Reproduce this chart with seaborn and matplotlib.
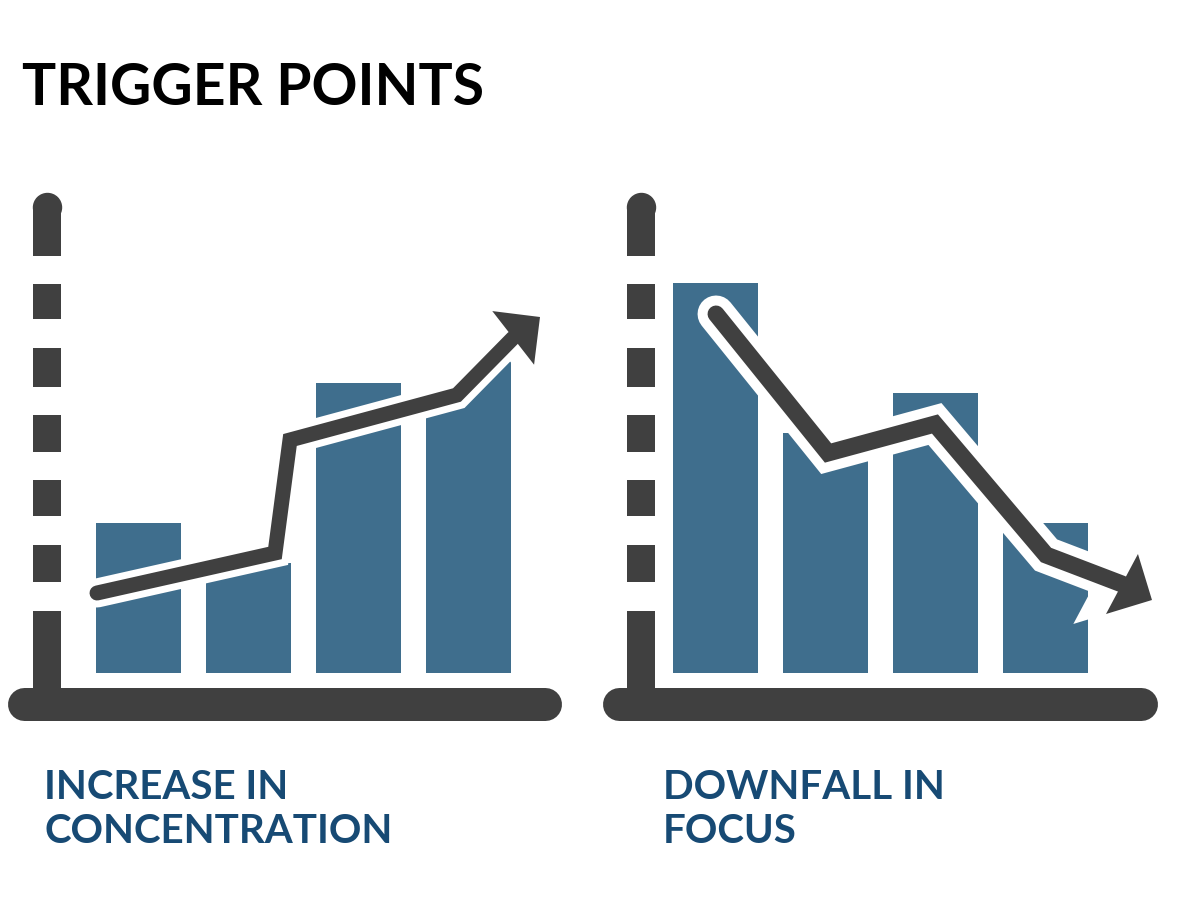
import matplotlib
matplotlib.use("Agg")
import matplotlib.pyplot as plt
from matplotlib.patches import Polygon
import seaborn as sns
import pandas as pd

# ---------------- data ----------------
title = "TRIGGER POINTS"
categories = ["1", "2", "3", "4"]
increase_values = [30, 22, 58, 64]
decrease_values = [78, 48, 56, 30]

increase_trend_x = [-0.377, 1.241, 1.377, 2.895, 3.405]
increase_trend_y = [16.0, 24.0, 46.6, 55.6, 67.0]
increase_tip = [3.65, 71.2]

decrease_trend_x = [0.005, 1.023, 1.995, 3.005, 3.695]
decrease_trend_y = [71.8, 44.0, 49.8, 23.6, 17.8]
decrease_tip = [3.968, 14.6]

increase_label = ["INCREASE IN", "CONCENTRATION"]
decrease_label = ["DOWNFALL IN", "FOCUS"]

# ---------------- style ----------------
W, H, DPI = 1200, 900, 100
BAR = "#3F6E8D"
DARK = "#404040"
NAVY = "#174A74"

sns.set_theme(style="white")
plt.rcParams["font.family"] = ["Lato", "DejaVu Sans"]
plt.rcParams["lines.scale_dashes"] = False


def pt(px):
    return px * 72.0 / DPI


fig = plt.figure(figsize=(W / DPI, H / DPI), dpi=DPI)
fig.patch.set_facecolor("white")

AX_BOTTOM_PX, AX_TOP_PX = 704, 207
BASE_PX = 673
UNIT_PX = 5.0
STEP_PX = 110.0

# dash pattern of the y axis, from the bottom up (pixels)
Y_DASHES = [93, 29, 37, 29, 36, 28, 37, 28, 39, 29, 35, 28, 80, 10]


def panel(left_px, right_px, yaxis_px, cat0_px, values, tx, ty, tip,
          line_px, halo_px, clip_last):
    ax = fig.add_axes([left_px / W, (H - AX_BOTTOM_PX) / H,
                       (right_px - left_px) / W,
                       (AX_BOTTOM_PX - AX_TOP_PX) / H])
    ax.set_facecolor("none")
    df = pd.DataFrame({"cat": categories, "val": values})
    sns.barplot(data=df, x="cat", y="val", color=BAR, saturation=1,
                width=0.78, linewidth=0, ax=ax, zorder=1)
    ax.set_xlim((left_px - cat0_px) / STEP_PX, (right_px - cat0_px) / STEP_PX)
    ax.set_ylim(-(AX_BOTTOM_PX - BASE_PX) / UNIT_PX,
                (BASE_PX - AX_TOP_PX) / UNIT_PX)
    ax.set_xticks([])
    ax.set_yticks([])
    ax.set_xlabel("")
    ax.set_ylabel("")

    for s in ("top", "right"):
        ax.spines[s].set_visible(False)
    frac = (yaxis_px - left_px) / (right_px - left_px)
    sl = ax.spines["left"]
    sl.set_position(("axes", frac))
    sl.set_linewidth(pt(28))
    sl.set_color(DARK)
    sl.set_capstyle("butt")
    sl.set_linestyle((0, [pt(d) for d in Y_DASHES]))
    ax.plot([frac], [1.0], marker="o", ms=pt(28), color=DARK,
            transform=ax.transAxes, clip_on=False, zorder=3)
    sb = ax.spines["bottom"]
    sb.set_linewidth(pt(33))
    sb.set_color(DARK)
    sb.set_capstyle("round")

    if clip_last:
        poly = list(zip(tx, ty)) + [tuple(tip), (tip[0], ax.get_ylim()[0]),
                                    (tx[0], ax.get_ylim()[0])]
        cp = Polygon(poly, closed=True, transform=ax.transData)
        ax.patches[-1].set_clip_path(cp)

    # halo layer
    ax.plot(tx, ty, color="white", lw=pt(line_px + 2 * halo_px),
            solid_capstyle="round", solid_joinstyle="miter",
            clip_on=False, zorder=4)
    hl, hw = pt(34), pt(34)
    ax.annotate("", xy=tuple(tip), xytext=(tx[-1], ty[-1]),
                arrowprops=dict(arrowstyle=f"-|>,head_length={hl},head_width={hw}",
                                mutation_scale=1, shrinkA=0, shrinkB=0,
                                fc="white", ec="white", lw=pt(2 * halo_px),
                                joinstyle="miter"),
                annotation_clip=False, zorder=4)
    # dark layer
    ax.plot(tx, ty, color=DARK, lw=pt(line_px),
            solid_capstyle="round", solid_joinstyle="miter",
            clip_on=False, zorder=6)
    ax.annotate("", xy=tuple(tip), xytext=(tx[-1], ty[-1]),
                arrowprops=dict(arrowstyle=f"-|>,head_length={hl},head_width={hw}",
                                mutation_scale=1, shrinkA=0, shrinkB=0,
                                fc=DARK, ec=DARK, lw=0),
                annotation_clip=False, zorder=6)
    return ax


panel(23.5, 544.5, 46.5, 138.5, increase_values, increase_trend_x,
      increase_trend_y, increase_tip, 15, 7, True)
panel(618.5, 1140.5, 640.5, 715.5, decrease_values, decrease_trend_x,
      decrease_trend_y, decrease_tip, 17, 10, False)

fig.text(22 / W, 1 - 105 / H, title, fontsize=41, fontweight="bold",
         color="black", ha="left", va="baseline")
for i, (a, b) in enumerate(zip(increase_label, decrease_label)):
    base = [799, 843][i]
    fig.text(44 / W, 1 - base / H, a, fontsize=29, fontweight="bold",
             color=NAVY, ha="left", va="baseline")
    fig.text(663 / W, 1 - base / H, b, fontsize=29, fontweight="bold",
             color=NAVY, ha="left", va="baseline")

fig.savefig("out.png", dpi=DPI, facecolor="white")
